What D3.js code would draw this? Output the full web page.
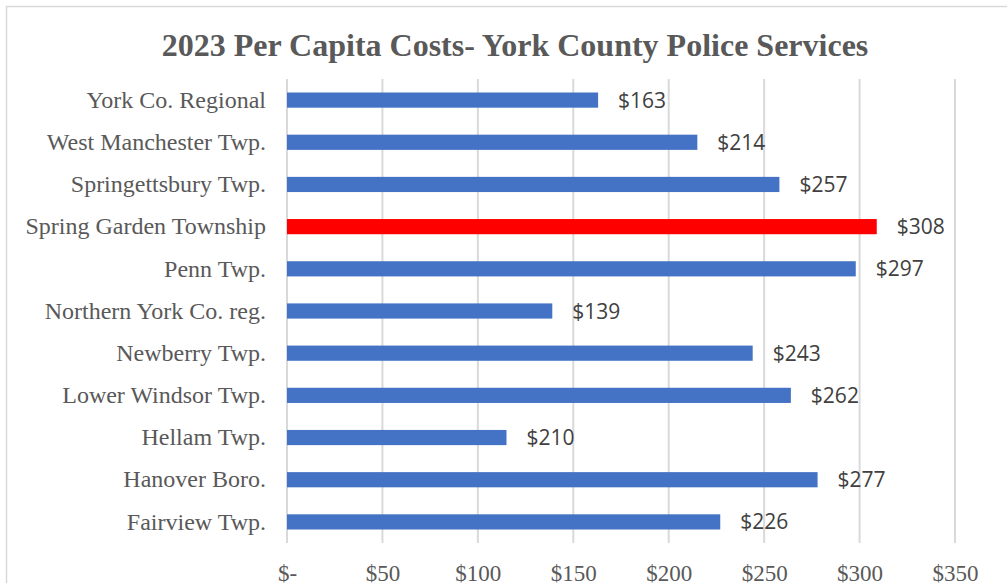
<!DOCTYPE html>
<html>
<head>
<meta charset="utf-8">
<script src="https://cdn.jsdelivr.net/npm/d3@7"></script>
<style>
  body { margin: 0; background: #fff; }
  svg { display: block; }
</style>
</head>
<body>
<div id="chart"></div>
<script>
  // chart data
  const places = [
    "York Co. Regional",
    "West Manchester Twp.",
    "Springettsbury Twp.",
    "Spring Garden Township",
    "Penn Twp.",
    "Northern York Co. reg.",
    "Newberry Twp.",
    "Lower Windsor Twp.",
    "Hellam Twp.",
    "Hanover Boro.",
    "Fairview Twp.",
  ];
  // bar lengths as drawn in the picture
  const barValues = [163, 215, 258, 309, 298, 139, 244, 264, 115, 278, 227];
  // data labels as printed
  const valueLabels = ["$163", "$214", "$257", "$308", "$297", "$139", "$243", "$262", "$210", "$277", "$226"];
  const highlight = "Spring Garden Township";
  const xTicks = [0, 50, 100, 150, 200, 250, 300, 350];
  const xTickLabels = ["$-", "$50", "$100", "$150", "$200", "$250", "$300", "$350"];

  const width = 1007;
  const height = 583;
  const margin = { top: 79, left: 287, right: 52, bottom: 40 };
  const serif = "Liberation Serif, Times New Roman, serif";

  const svg = d3
    .select("#chart")
    .append("svg")
    .attr("width", width)
    .attr("height", height);

  // chart border
  svg
    .append("rect")
    .attr("x", 6.5)
    .attr("y", 6.5)
    .attr("width", width + 20)
    .attr("height", height + 20)
    .attr("fill", "none")
    .attr("stroke", "#d9d9d9")
    .attr("stroke-width", 1.5);

  // title
  svg
    .append("text")
    .attr("x", 515)
    .attr("y", 56)
    .attr("text-anchor", "middle")
    .attr("font-family", serif)
    .attr("font-weight", "bold")
    .attr("font-size", 32)
    .attr("fill", "#595959")
    .text("2023 Per Capita Costs- York County Police Services");

  const x = d3
    .scaleLinear()
    .domain([0, 350])
    .range([margin.left, width - margin.right]);

  const y = d3
    .scaleBand()
    .domain(places)
    .range([margin.top, 543])
    .paddingInner(0.64)
    .paddingOuter(0.32);

  // gridlines
  svg
    .selectAll(".grid")
    .data(xTicks)
    .enter()
    .append("line")
    .attr("class", "grid")
    .attr("x1", (d) => x(d))
    .attr("x2", (d) => x(d))
    .attr("y1", margin.top)
    .attr("y2", 543)
    .attr("stroke", "#d9d9d9")
    .attr("stroke-width", 2);

  // bars
  svg
    .selectAll(".bar")
    .data(places)
    .enter()
    .append("rect")
    .attr("class", "bar")
    .attr("x", x(0))
    .attr("y", (d) => y(d))
    .attr("width", (d, i) => x(barValues[i]) - x(0))
    .attr("height", y.bandwidth())
    .attr("fill", (d) => (d === highlight ? "#ff0000" : "#4472c4"));

  // value labels
  svg
    .selectAll(".value")
    .data(places)
    .enter()
    .append("text")
    .attr("class", "value")
    .attr("x", (d, i) => x(barValues[i]) + 20)
    .attr("y", (d) => y(d) + y.bandwidth() / 2)
    .attr("dy", "0.36em")
    .attr("font-family", "Open Sans, Liberation Sans, sans-serif")
    .attr("font-size", 21)
    .attr("fill", "#404040")
    .text((d, i) => valueLabels[i]);

  // category axis
  const yAxis = svg
    .append("g")
    .attr("transform", `translate(${margin.left},0)`)
    .call(d3.axisLeft(y).tickSize(0).tickPadding(21));
  yAxis.select(".domain").remove();
  yAxis
    .selectAll("text")
    .attr("font-family", serif)
    .attr("font-size", 24)
    .attr("fill", "#595959");

  // value axis
  const xAxis = svg
    .append("g")
    .attr("transform", "translate(0,560)")
    .call(
      d3
        .axisBottom(x)
        .tickValues(xTicks)
        .tickFormat((d, i) => xTickLabels[i])
        .tickSize(0)
        .tickPadding(5)
    );
  xAxis.select(".domain").remove();
  xAxis
    .selectAll("text")
    .attr("font-family", serif)
    .attr("font-size", 23)
    .attr("fill", "#595959");
</script>
</body>
</html>
